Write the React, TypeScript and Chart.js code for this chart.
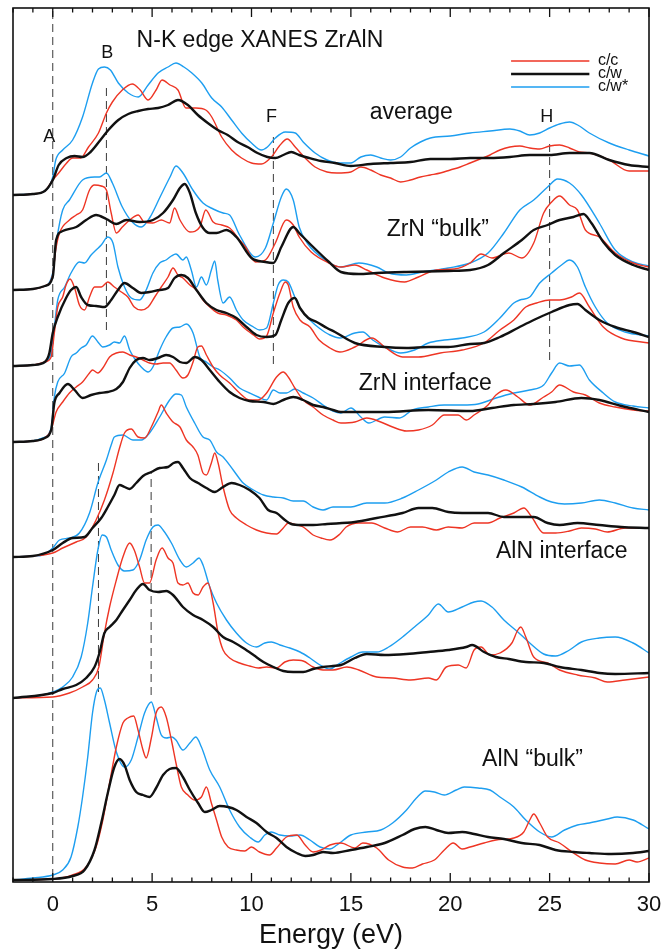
import { useEffect, useRef } from "react";
import { Chart, registerables } from "chart.js";

Chart.register(...registerables);

type Pt = [number, number];

const FONT = '"Liberation Sans", Arial, Helvetica, sans-serif';

// axis ranges
const ENERGY_MIN = -2;
const ENERGY_MAX = 30;
const INTENSITY_MAX = 8.74;
const energyTicks = [0, 5, 10, 15, 20, 25, 30];

// vertical stacking offsets of each set of spectra (arb. units)
const OFFSET_AVERAGE = 6.86;
const OFFSET_ZRN_BULK = 5.92;
const OFFSET_ZRN_MID = 5.16;
const OFFSET_ZRN_INTERFACE = 4.4;
const OFFSET_ALN_INTERFACE = 3.25;
const OFFSET_ALN_MID = 1.83;
const OFFSET_ALN_BULK = 0.02;

// ---- average ----
const averageCC: Pt[] = [[-2,0.01],[-1,0.02],[-0.4,0.05],[0,0.16],[0.3,0.23],[0.7,0.33],[1.0,0.38],[1.4,0.38],[1.8,0.49],[2.3,0.63],[2.7,0.83],[3.0,0.94],[3.5,1.06],[4.0,1.12],[4.4,1.06],[4.8,0.96],[5.2,1.06],[5.5,1.16],[5.9,1.11],[6.3,1.06],[6.7,0.88],[7.2,0.88],[7.7,0.86],[8.0,0.79],[8.5,0.59],[9.0,0.46],[9.5,0.38],[10.0,0.33],[10.5,0.32],[11.0,0.39],[11.4,0.50],[11.8,0.57],[12.2,0.49],[12.7,0.38],[13.2,0.29],[13.8,0.24],[14.3,0.23],[15,0.24],[15.5,0.29],[16,0.26],[16.5,0.21],[17,0.18],[17.5,0.14],[18,0.16],[18.5,0.19],[19,0.21],[19.5,0.23],[20,0.26],[20.5,0.29],[21,0.33],[21.5,0.37],[22,0.41],[22.5,0.46],[23,0.49],[23.5,0.50],[24,0.48],[24.5,0.47],[25,0.50],[25.5,0.51],[26,0.48],[26.5,0.44],[27,0.43],[28,0.36],[29,0.25],[30,0.25]];
const averageCW: Pt[] = [[-2,0.01],[-1,0.02],[-0.4,0.05],[0,0.16],[0.3,0.31],[0.7,0.38],[1.1,0.40],[1.5,0.39],[1.9,0.44],[2.4,0.56],[2.8,0.66],[3.3,0.76],[3.8,0.82],[4.3,0.85],[4.8,0.87],[5.3,0.88],[5.8,0.91],[6.3,0.96],[6.8,0.91],[7.3,0.81],[7.8,0.73],[8.3,0.66],[8.8,0.61],[9.3,0.54],[9.8,0.49],[10.3,0.43],[10.8,0.39],[11.2,0.38],[11.6,0.41],[12.0,0.44],[12.4,0.41],[12.9,0.38],[13.5,0.35],[14.2,0.33],[15,0.30],[16,0.32],[17,0.33],[18,0.34],[19,0.37],[20,0.37],[21,0.38],[22,0.38],[23,0.39],[24,0.41],[25,0.41],[26,0.43],[27,0.43],[28,0.36],[29,0.31],[30,0.29]];
const averageCWs: Pt[] = [[-2,0.01],[-1,0.02],[-0.5,0.04],[0,0.19],[0.15,0.36],[0.5,0.46],[1.0,0.56],[1.5,0.79],[2.0,1.13],[2.3,1.27],[2.6,1.29],[2.9,1.26],[3.3,1.13],[3.8,1.03],[4.3,0.99],[4.8,1.11],[5.3,1.23],[5.8,1.29],[6.2,1.33],[6.6,1.29],[7.0,1.23],[7.5,1.13],[8.0,0.98],[8.5,0.89],[9.0,0.76],[9.5,0.63],[10.0,0.53],[10.5,0.46],[10.8,0.49],[11.2,0.58],[11.7,0.64],[12.2,0.63],[12.6,0.54],[13.2,0.43],[13.8,0.36],[14.4,0.33],[15,0.33],[15.5,0.39],[16,0.41],[16.5,0.38],[17,0.36],[17.5,0.39],[18,0.48],[18.5,0.54],[19,0.58],[20,0.60],[21,0.63],[22,0.65],[23,0.67],[23.5,0.65],[24,0.61],[24.5,0.63],[25,0.68],[25.5,0.72],[26,0.74],[26.5,0.70],[27,0.63],[28,0.53],[29,0.46],[30,0.40]];

// ---- ZrN "bulk" ----
const zrnBulkCC: Pt[] = [[-2,0],[-1,0.01],[-0.4,0.04],[0,0.15],[0.15,0.40],[0.34,0.57],[0.84,0.70],[1.18,0.75],[1.5,0.80],[1.85,1.00],[2.1,1.05],[2.44,1.04],[2.7,1.00],[2.94,0.77],[3.2,0.57],[3.5,0.63],[3.87,0.70],[4.3,0.75],[4.6,0.68],[5.04,0.67],[5.46,0.70],[5.88,0.67],[6.13,0.82],[6.4,0.70],[6.9,0.58],[7.4,0.63],[7.7,0.80],[8.07,0.68],[8.5,0.65],[8.9,0.62],[9.4,0.50],[9.7,0.43],[10.2,0.28],[10.7,0.30],[11.2,0.47],[11.75,0.70],[12.1,0.65],[12.4,0.53],[13.0,0.38],[13.9,0.27],[14.5,0.23],[15.2,0.25],[15.8,0.20],[16.7,0.12],[17.7,0.08],[18.4,0.13],[19.3,0.20],[20.2,0.21],[21.0,0.27],[21.55,0.36],[22.1,0.32],[22.95,0.37],[23.6,0.32],[24.2,0.47],[24.7,0.77],[25.1,0.88],[25.5,0.94],[26.0,0.85],[26.4,0.80],[26.8,0.60],[27.5,0.53],[28.3,0.37],[29.2,0.27],[30,0.23]];
const zrnBulkCW: Pt[] = [[-2,0],[-1,0.01],[-0.4,0.04],[0,0.13],[0.17,0.50],[0.5,0.59],[1.18,0.63],[1.68,0.70],[2.18,0.75],[2.7,0.71],[3.2,0.66],[3.7,0.70],[4.37,0.68],[5.04,0.70],[5.55,0.77],[6.05,0.90],[6.4,1.02],[6.64,1.06],[6.9,0.97],[7.2,0.77],[7.56,0.62],[7.9,0.57],[8.24,0.57],[8.74,0.60],[9.24,0.53],[10.0,0.32],[10.7,0.28],[11.1,0.27],[11.5,0.43],[12.1,0.63],[12.4,0.57],[13.0,0.45],[13.9,0.28],[14.5,0.18],[15.4,0.16],[16.3,0.17],[17.8,0.18],[19.9,0.19],[21.0,0.20],[21.9,0.25],[22.7,0.37],[23.6,0.50],[24.2,0.60],[24.9,0.65],[25.5,0.70],[26.2,0.73],[26.7,0.76],[27.1,0.67],[27.7,0.48],[28.3,0.35],[29.2,0.25],[30,0.20]];
const zrnBulkCWs: Pt[] = [[-2,0],[-1,0.01],[-0.5,0.03],[0,0.17],[0.2,0.50],[0.5,0.80],[0.84,0.90],[1.5,1.10],[2.1,1.13],[2.35,1.13],[2.7,1.17],[3.0,1.07],[3.5,0.83],[4.0,0.68],[4.45,0.63],[4.9,0.73],[5.4,0.93],[5.9,1.13],[6.2,1.24],[6.55,1.17],[7.05,1.00],[7.56,0.87],[8.07,0.81],[8.57,0.77],[8.9,0.75],[9.4,0.55],[10.2,0.33],[10.7,0.42],[11.1,0.67],[11.5,0.93],[11.75,1.01],[12.1,0.90],[12.4,0.63],[12.8,0.47],[13.7,0.30],[14.5,0.23],[15.4,0.27],[16.3,0.23],[16.9,0.17],[17.8,0.15],[18.6,0.18],[19.9,0.22],[21.0,0.27],[21.9,0.37],[22.7,0.57],[23.5,0.80],[24.2,0.90],[24.9,1.03],[25.4,1.11],[26.0,1.07],[26.6,0.95],[27.5,0.67],[28.3,0.40],[29.2,0.28],[30,0.24]];

// ---- ZrN (intermediate layer) ----
const zrnMidCC: Pt[] = [[-2,0],[-1,0.01],[-0.4,0.04],[-0.08,0.09],[0.08,0.33],[0.25,0.59],[0.5,0.69],[0.67,0.81],[0.87,0.87],[1.1,0.78],[1.34,0.61],[1.6,0.56],[1.85,0.69],[2.1,0.79],[2.44,0.79],[2.77,0.84],[3.1,0.79],[3.45,0.74],[3.78,0.69],[4.1,0.59],[4.45,0.56],[4.8,0.59],[5.13,0.69],[5.46,0.79],[5.8,0.89],[6.05,0.98],[6.3,0.91],[6.55,0.88],[6.9,0.81],[7.23,0.76],[7.56,0.66],[7.9,0.59],[8.3,0.53],[8.74,0.51],[9.24,0.46],[9.58,0.39],[10.1,0.31],[10.4,0.27],[10.76,0.30],[11.1,0.53],[11.43,0.73],[11.7,0.84],[11.85,0.81],[12.1,0.59],[12.44,0.46],[12.94,0.39],[13.4,0.26],[13.95,0.18],[14.45,0.14],[15.2,0.19],[16.05,0.28],[16.7,0.19],[17.6,0.09],[18.4,0.09],[19.5,0.13],[20.6,0.16],[21.7,0.23],[22.5,0.36],[23.2,0.46],[23.8,0.59],[24.35,0.63],[25.0,0.66],[25.5,0.66],[26.1,0.69],[26.5,0.73],[27.0,0.59],[27.7,0.39],[28.6,0.28],[30,0.23]];
const zrnMidCW: Pt[] = [[-2,0],[-1,0.01],[-0.4,0.04],[-0.17,0.13],[0,0.33],[0.25,0.49],[0.67,0.68],[0.92,0.76],[1.18,0.79],[1.43,0.69],[1.76,0.61],[2.18,0.60],[2.6,0.59],[2.94,0.66],[3.28,0.76],[3.61,0.83],[4.03,0.78],[4.45,0.73],[4.87,0.74],[5.38,0.76],[5.8,0.78],[6.13,0.88],[6.47,0.91],[6.8,0.88],[7.23,0.76],[7.73,0.63],[8.24,0.56],[8.74,0.53],[9.24,0.48],[9.75,0.39],[10.25,0.31],[10.76,0.29],[11.2,0.31],[11.5,0.46],[11.85,0.63],[12.18,0.68],[12.44,0.58],[12.86,0.48],[13.28,0.44],[13.8,0.38],[14.2,0.34],[15.2,0.23],[16.7,0.19],[17.8,0.18],[18.9,0.19],[19.9,0.19],[21.0,0.22],[21.7,0.23],[22.5,0.29],[23.4,0.38],[24.2,0.46],[25.1,0.54],[26.0,0.61],[26.4,0.62],[26.8,0.56],[27.5,0.46],[28.3,0.39],[29.2,0.34],[30,0.29]];
const zrnMidCWs: Pt[] = [[-2,0],[-1,0.01],[-0.5,0.03],[-0.08,0.13],[0.08,0.39],[0.25,0.66],[0.6,0.79],[0.92,0.93],[1.34,1.04],[1.6,1.03],[1.93,1.11],[2.18,1.16],[2.44,1.21],[2.77,1.29],[3.03,1.23],[3.28,0.99],[3.61,0.79],[3.95,0.68],[4.37,0.66],[4.7,0.76],[5.04,0.93],[5.38,1.03],[5.7,1.06],[5.97,1.10],[6.2,1.12],[6.55,1.06],[6.72,1.09],[6.97,0.96],[7.23,0.79],[7.48,0.89],[7.73,0.81],[7.98,0.96],[8.15,1.05],[8.3,0.86],[8.57,0.63],[8.9,0.69],[9.24,0.56],[9.58,0.46],[10.1,0.39],[10.4,0.36],[10.76,0.38],[11.1,0.63],[11.34,0.81],[11.6,0.86],[11.85,0.84],[12.18,0.69],[12.5,0.56],[12.94,0.46],[13.4,0.38],[13.95,0.31],[14.45,0.28],[15.2,0.33],[15.6,0.34],[16.1,0.26],[16.7,0.19],[17.5,0.13],[18.2,0.16],[18.9,0.23],[19.7,0.26],[20.6,0.28],[21.7,0.34],[22.5,0.48],[23.2,0.63],[23.5,0.66],[24.0,0.69],[24.5,0.83],[25.1,0.93],[25.6,1.01],[26.0,1.06],[26.4,0.99],[26.8,0.79],[27.3,0.59],[27.9,0.43],[28.8,0.34],[30,0.30]];

// ---- ZrN interface ----
const zrnInterfaceCC: Pt[] = [[-2,0],[-1,0.01],[-0.4,0.04],[-0.08,0.12],[0.17,0.30],[0.5,0.40],[0.84,0.49],[1.18,0.55],[1.5,0.60],[1.85,0.69],[2.0,0.72],[2.27,0.69],[2.52,0.74],[2.86,0.85],[3.2,0.89],[3.53,0.90],[3.87,0.87],[4.2,0.85],[4.54,0.82],[4.87,0.79],[5.2,0.78],[5.55,0.79],[5.88,0.79],[6.2,0.72],[6.55,0.64],[6.8,0.67],[7.06,0.80],[7.3,0.95],[7.48,0.96],[7.73,0.87],[8.07,0.75],[8.4,0.67],[8.9,0.59],[9.4,0.49],[9.9,0.42],[10.34,0.42],[10.76,0.49],[11.26,0.65],[11.6,0.70],[11.85,0.65],[12.18,0.54],[12.6,0.42],[13.1,0.35],[13.6,0.27],[14.1,0.22],[14.5,0.19],[15.2,0.20],[15.8,0.24],[16.5,0.20],[17.1,0.15],[17.8,0.11],[18.4,0.12],[19.1,0.17],[19.7,0.27],[20.4,0.27],[20.8,0.22],[21.2,0.27],[21.9,0.37],[22.3,0.47],[22.8,0.52],[23.4,0.45],[24.0,0.37],[24.7,0.45],[25.1,0.50],[25.5,0.57],[26.2,0.50],[26.8,0.47],[27.5,0.39],[28.3,0.35],[29.2,0.32],[30,0.31]];
const zrnInterfaceCW: Pt[] = [[-2,0],[-1,0.01],[-0.4,0.04],[-0.08,0.12],[0.08,0.39],[0.34,0.49],[0.76,0.58],[1.1,0.52],[1.5,0.44],[1.93,0.47],[2.35,0.49],[2.77,0.50],[3.2,0.53],[3.53,0.60],[3.87,0.74],[4.2,0.82],[4.54,0.84],[4.87,0.82],[5.3,0.84],[5.7,0.87],[6.05,0.85],[6.4,0.80],[6.72,0.79],[7.15,0.85],[7.48,0.82],[7.9,0.72],[8.4,0.60],[8.9,0.50],[9.4,0.44],[9.9,0.41],[10.6,0.40],[11.1,0.38],[11.6,0.42],[12.1,0.45],[12.6,0.42],[13.1,0.37],[13.6,0.35],[14.1,0.32],[14.5,0.30],[16.7,0.30],[18.9,0.32],[21.0,0.31],[22.1,0.34],[23.2,0.37],[24.2,0.38],[25.3,0.40],[26.6,0.44],[27.5,0.42],[28.6,0.36],[30,0.30]];
const zrnInterfaceCWs: Pt[] = [[-2,0],[-1,0.01],[-0.5,0.04],[-0.08,0.14],[0.08,0.45],[0.25,0.60],[0.6,0.69],[0.92,0.85],[1.18,0.89],[1.43,0.94],[1.68,0.97],[2.0,1.06],[2.27,1.00],[2.52,0.95],[2.86,0.97],[3.1,1.00],[3.36,0.99],[3.61,1.06],[3.87,0.92],[4.1,0.84],[4.45,0.75],[4.8,0.70],[5.04,0.75],[5.38,0.92],[5.7,1.05],[6.05,1.14],[6.4,1.15],[6.72,1.18],[7.06,1.09],[7.4,0.85],[7.73,0.80],[8.07,0.75],[8.4,0.72],[8.9,0.64],[9.4,0.54],[9.9,0.49],[10.34,0.45],[10.76,0.42],[11.1,0.52],[11.43,0.49],[11.76,0.49],[12.18,0.53],[12.6,0.49],[13.1,0.44],[13.6,0.37],[14.1,0.31],[14.5,0.29],[15.0,0.34],[15.5,0.25],[15.9,0.19],[16.7,0.25],[17.45,0.24],[18.1,0.32],[18.9,0.35],[19.7,0.37],[20.6,0.37],[21.4,0.38],[22.3,0.44],[23.2,0.49],[24.0,0.52],[24.7,0.57],[25.1,0.69],[25.5,0.79],[26.0,0.76],[26.5,0.77],[27.0,0.62],[27.7,0.49],[28.3,0.40],[29.2,0.36],[30,0.34]];

// ---- AlN interface ----
const alnInterfaceCC: Pt[] = [[-2,0],[-1,0.01],[0,0.04],[0.5,0.09],[1.18,0.15],[1.68,0.20],[2.18,0.37],[2.6,0.57],[3.03,0.84],[3.36,1.09],[3.61,1.24],[3.95,1.28],[4.29,1.20],[4.62,1.19],[4.96,1.30],[5.3,1.45],[5.46,1.52],[5.71,1.44],[6.05,1.35],[6.4,1.30],[6.72,1.17],[7.06,1.10],[7.3,1.02],[7.56,0.84],[7.73,0.82],[7.98,0.94],[8.15,1.04],[8.32,0.94],[8.57,0.70],[8.9,0.47],[9.24,0.39],[9.75,0.32],[10.25,0.27],[10.76,0.24],[11.26,0.23],[11.6,0.29],[11.85,0.34],[12.27,0.32],[12.6,0.30],[13.1,0.22],[13.5,0.19],[13.95,0.17],[14.45,0.23],[14.76,0.30],[15.4,0.34],[16.05,0.34],[16.7,0.29],[17.35,0.25],[18.0,0.30],[18.6,0.30],[19.3,0.27],[19.9,0.30],[20.6,0.29],[21.2,0.34],[21.9,0.34],[22.5,0.39],[23.2,0.44],[23.7,0.49],[24.1,0.40],[24.7,0.24],[25.3,0.24],[26.0,0.26],[26.6,0.29],[27.3,0.28],[27.9,0.25],[28.8,0.29],[30,0.29]];
const alnInterfaceCW: Pt[] = [[-2,0],[-1,0.01],[0,0.07],[0.5,0.14],[1.0,0.19],[1.6,0.20],[2.0,0.29],[2.44,0.39],[2.77,0.50],[3.1,0.62],[3.36,0.72],[3.61,0.70],[3.87,0.68],[4.2,0.74],[4.54,0.81],[4.96,0.85],[5.38,0.89],[5.8,0.90],[6.08,0.94],[6.3,0.95],[6.55,0.89],[6.9,0.79],[7.31,0.74],[7.73,0.69],[8.15,0.65],[8.57,0.70],[9.0,0.74],[9.4,0.72],[9.9,0.67],[10.4,0.59],[10.84,0.47],[11.26,0.44],[11.68,0.37],[12.0,0.33],[12.5,0.32],[13.1,0.32],[13.8,0.33],[15.2,0.35],[16.3,0.39],[17.6,0.44],[18.4,0.49],[19.1,0.49],[19.9,0.45],[20.6,0.44],[21.2,0.44],[21.9,0.44],[22.7,0.40],[23.6,0.40],[24.2,0.40],[24.9,0.34],[25.5,0.32],[26.4,0.34],[27.5,0.32],[28.6,0.30],[30,0.29]];
const alnInterfaceCWs: Pt[] = [[-2,0],[-1,0.01],[-0.5,0.02],[0,0.09],[0.34,0.17],[0.84,0.19],[1.34,0.24],[1.85,0.44],[2.27,0.74],[2.7,0.97],[2.94,1.12],[3.1,1.20],[3.53,1.22],[4.03,1.17],[4.45,1.17],[4.87,1.24],[5.38,1.40],[5.88,1.57],[6.2,1.63],[6.47,1.62],[6.72,1.50],[7.14,1.34],[7.56,1.20],[7.9,1.17],[8.24,1.05],[8.57,1.00],[9.08,0.87],[9.58,0.74],[10.1,0.67],[10.6,0.62],[11.1,0.60],[11.6,0.59],[12.1,0.56],[12.6,0.56],[13.1,0.50],[13.6,0.47],[14.1,0.50],[15.0,0.50],[15.8,0.54],[16.7,0.54],[17.6,0.59],[18.4,0.67],[19.3,0.77],[19.9,0.85],[20.6,0.90],[21.2,0.85],[21.9,0.82],[22.7,0.77],[23.6,0.70],[24.5,0.60],[25.1,0.55],[25.75,0.53],[26.6,0.54],[27.5,0.57],[28.3,0.54],[29.2,0.49],[30,0.47]];

// ---- AlN (intermediate layer) ----
const alnMidCC: Pt[] = [[-2,0.01],[0,0.02],[0.84,0.06],[1.5,0.12],[2.0,0.19],[2.32,0.32],[2.6,0.66],[2.86,0.92],[3.2,1.19],[3.53,1.42],[3.87,1.56],[4.1,1.49],[4.37,1.32],[4.62,1.16],[4.87,1.16],[5.2,1.39],[5.5,1.51],[5.8,1.41],[6.05,1.36],[6.3,1.16],[6.55,1.14],[6.8,1.16],[7.06,1.06],[7.31,1.04],[7.56,1.12],[7.81,1.16],[8.07,0.96],[8.32,0.66],[8.57,0.49],[8.9,0.41],[9.4,0.36],[9.9,0.33],[10.34,0.31],[10.76,0.32],[11.26,0.31],[11.68,0.37],[12.1,0.39],[12.6,0.38],[13.1,0.32],[13.6,0.29],[14.1,0.29],[14.8,0.32],[15.4,0.29],[16.3,0.22],[17.1,0.21],[18.0,0.19],[18.9,0.21],[19.3,0.19],[19.8,0.32],[20.4,0.34],[20.8,0.31],[21.2,0.49],[21.55,0.52],[22.0,0.44],[22.5,0.46],[23.1,0.56],[23.4,0.69],[23.55,0.72],[23.8,0.62],[24.2,0.42],[24.9,0.36],[25.5,0.29],[26.4,0.24],[27.3,0.21],[27.9,0.17],[28.8,0.19],[30,0.22]];
const alnMidCW: Pt[] = [[-2,0.01],[0,0.06],[0.5,0.10],[1.18,0.14],[1.68,0.21],[2.1,0.32],[2.35,0.46],[2.6,0.66],[2.86,0.72],[3.2,0.79],[3.53,0.89],[3.87,0.99],[4.2,1.09],[4.54,1.15],[4.87,1.09],[5.3,1.07],[5.71,1.08],[6.05,1.04],[6.55,0.92],[7.06,0.84],[7.56,0.79],[8.07,0.72],[8.57,0.62],[9.08,0.57],[9.58,0.51],[10.1,0.44],[10.6,0.37],[11.1,0.32],[11.6,0.28],[12.1,0.27],[12.6,0.27],[13.1,0.30],[13.6,0.32],[14.1,0.33],[14.5,0.34],[15.2,0.41],[15.8,0.45],[16.7,0.44],[17.8,0.45],[18.9,0.47],[19.9,0.49],[20.8,0.52],[21.1,0.54],[21.7,0.47],[22.3,0.42],[22.95,0.40],[23.8,0.37],[24.7,0.36],[25.5,0.32],[26.6,0.29],[27.5,0.26],[28.3,0.25],[30,0.26]];
const alnMidCWs: Pt[] = [[-2,0.01],[-0.5,0.04],[0,0.07],[0.5,0.12],[1.0,0.22],[1.43,0.42],[1.76,0.76],[2.0,1.12],[2.27,1.49],[2.49,1.64],[2.7,1.62],[2.94,1.49],[3.28,1.34],[3.61,1.28],[4.03,1.29],[4.37,1.39],[4.7,1.59],[5.04,1.72],[5.3,1.74],[5.55,1.69],[5.97,1.56],[6.4,1.39],[6.72,1.32],[7.06,1.36],[7.36,1.41],[7.56,1.34],[7.9,1.12],[8.24,0.96],[8.74,0.79],[9.24,0.66],[9.75,0.56],[10.25,0.52],[10.67,0.56],[11.0,0.57],[11.43,0.54],[11.93,0.51],[12.44,0.47],[12.94,0.41],[13.45,0.34],[13.95,0.30],[14.3,0.34],[15.0,0.42],[15.6,0.47],[16.3,0.47],[16.9,0.52],[17.6,0.62],[18.2,0.72],[18.9,0.84],[19.4,0.95],[19.9,0.87],[20.6,0.92],[21.2,0.97],[21.55,0.98],[22.1,0.92],[22.7,0.79],[23.4,0.67],[24.0,0.56],[24.7,0.45],[25.3,0.43],[26.0,0.49],[26.6,0.57],[27.5,0.61],[28.3,0.62],[29.2,0.56],[30,0.46]];

// ---- AlN "bulk" ----
const alnBulkCC: Pt[] = [[-2,0],[0,0.01],[1.0,0.05],[1.68,0.13],[2.18,0.33],[2.52,0.60],[2.86,0.97],[3.2,1.33],[3.53,1.57],[3.78,1.62],[4.07,1.64],[4.29,1.50],[4.54,1.30],[4.7,1.22],[4.96,1.42],[5.2,1.67],[5.46,1.73],[5.71,1.63],[5.97,1.40],[6.2,1.17],[6.47,0.93],[6.8,0.85],[7.14,0.80],[7.48,0.83],[7.73,0.93],[7.98,0.77],[8.24,0.60],[8.5,0.43],[8.82,0.33],[9.24,0.30],[9.66,0.29],[10.0,0.33],[10.4,0.28],[10.9,0.25],[11.26,0.32],[11.76,0.43],[12.27,0.45],[12.7,0.35],[13.1,0.28],[13.5,0.30],[13.95,0.35],[14.5,0.37],[15.2,0.32],[15.6,0.37],[16.3,0.32],[16.9,0.20],[17.6,0.13],[18.1,0.12],[18.6,0.16],[19.2,0.20],[19.7,0.30],[20.15,0.37],[20.6,0.31],[21.0,0.33],[21.7,0.37],[22.3,0.40],[23.2,0.42],[23.7,0.48],[24.0,0.60],[24.2,0.66],[24.5,0.57],[24.9,0.43],[25.5,0.37],[26.2,0.27],[26.8,0.20],[27.5,0.17],[28.3,0.16],[29.0,0.20],[29.4,0.18],[30,0.22]];
const alnBulkCW: Pt[] = [[-2,0],[0,0.01],[1.0,0.04],[1.6,0.10],[2.1,0.30],[2.44,0.57],[2.77,0.87],[3.1,1.13],[3.36,1.21],[3.61,1.15],[3.87,1.00],[4.2,0.88],[4.54,0.85],[4.87,0.83],[5.2,0.92],[5.55,1.05],[5.88,1.11],[6.2,1.12],[6.55,1.03],[6.9,0.90],[7.31,0.77],[7.65,0.68],[7.98,0.70],[8.4,0.74],[8.82,0.73],[9.24,0.70],[9.75,0.63],[10.25,0.57],[10.76,0.48],[11.26,0.42],[11.76,0.33],[12.27,0.27],[12.7,0.24],[13.1,0.25],[13.6,0.28],[14.1,0.27],[15.0,0.30],[15.8,0.33],[16.7,0.37],[17.6,0.45],[18.2,0.51],[18.75,0.53],[19.3,0.50],[19.9,0.47],[20.6,0.48],[21.2,0.46],[21.9,0.43],[22.7,0.41],[23.6,0.37],[24.5,0.35],[25.3,0.30],[26.2,0.28],[27.0,0.27],[28.1,0.26],[29.2,0.27],[30,0.29]];
const alnBulkCWs: Pt[] = [[-2,0],[-1,0.02],[0,0.05],[0.5,0.10],[0.92,0.23],[1.26,0.53],[1.5,0.83],[1.76,1.23],[2.0,1.67],[2.2,1.88],[2.39,1.92],[2.6,1.80],[2.86,1.57],[3.2,1.28],[3.61,1.13],[3.95,1.20],[4.29,1.43],[4.62,1.67],[4.96,1.78],[5.2,1.63],[5.46,1.45],[5.71,1.42],[6.0,1.43],[6.2,1.40],[6.55,1.30],[6.9,1.37],[7.2,1.43],[7.48,1.33],[7.9,1.10],[8.4,0.93],[8.9,0.70],[9.4,0.53],[9.9,0.43],[10.34,0.38],[10.67,0.45],[11.0,0.48],[11.43,0.45],[11.93,0.44],[12.44,0.45],[12.94,0.40],[13.45,0.33],[13.95,0.31],[14.3,0.35],[15.0,0.45],[15.8,0.48],[16.5,0.50],[17.1,0.57],[17.8,0.70],[18.3,0.82],[18.75,0.89],[19.2,0.88],[19.7,0.85],[20.3,0.90],[20.7,0.93],[21.4,0.92],[22.0,0.90],[22.5,0.83],[23.2,0.73],[23.8,0.60],[24.5,0.48],[25.1,0.43],[25.75,0.50],[26.4,0.55],[27.0,0.57],[27.9,0.61],[28.4,0.63],[29.2,0.60],[30,0.51]];

// feature markers: [energy, lower intensity, upper intensity]
const featureMarkers: [number, number, number][] = [
  [0, 0.05, INTENSITY_MAX],
  [2.7, 5.52, 7.99],
  [11.1, 5.18, 7.45],
  [25.0, 5.22, 7.42],
  [2.3, 1.9, 4.24],
  [4.95, 1.87, 4.09],
];

const seriesLabels = ["c/c", "c/w", "c/w*"];
const seriesColors = ["#ee3524", "#111111", "#1d9ef0"];
const seriesWidths = [1.4, 2.4, 1.4];

const spectrumSets: { offset: number; series: Pt[][] }[] = [
  { offset: OFFSET_AVERAGE, series: [averageCC, averageCW, averageCWs] },
  { offset: OFFSET_ZRN_BULK, series: [zrnBulkCC, zrnBulkCW, zrnBulkCWs] },
  { offset: OFFSET_ZRN_MID, series: [zrnMidCC, zrnMidCW, zrnMidCWs] },
  { offset: OFFSET_ZRN_INTERFACE, series: [zrnInterfaceCC, zrnInterfaceCW, zrnInterfaceCWs] },
  { offset: OFFSET_ALN_INTERFACE, series: [alnInterfaceCC, alnInterfaceCW, alnInterfaceCWs] },
  { offset: OFFSET_ALN_MID, series: [alnMidCC, alnMidCW, alnMidCWs] },
  { offset: OFFSET_ALN_BULK, series: [alnBulkCC, alnBulkCW, alnBulkCWs] },
];

// text annotations placed in data coordinates (energy, intensity)
type Note = { text: string; e: number; v: number; size: number; align: CanvasTextAlign };
const notes: Note[] = [
  { text: "N-K edge XANES ZrAlN", e: 4.22, v: 8.41, size: 23, align: "left" },
  { text: "A", e: -0.17, v: 7.45, size: 18, align: "center" },
  { text: "B", e: 2.74, v: 8.29, size: 18, align: "center" },
  { text: "F", e: 11.0, v: 7.65, size: 18, align: "center" },
  { text: "H", e: 24.85, v: 7.65, size: 18, align: "center" },
  { text: "average", e: 15.95, v: 7.69, size: 23, align: "left" },
  { text: "ZrN \u201Cbulk\u201D", e: 16.8, v: 6.52, size: 23, align: "left" },
  { text: "ZrN interface", e: 15.4, v: 4.98, size: 23, align: "left" },
  { text: "AlN interface", e: 22.3, v: 3.3, size: 23, align: "left" },
  { text: "AlN \u201Cbulk\u201D", e: 21.6, v: 1.22, size: 23, align: "left" },
];

// legend rows: intensity level of each row, line start/end energy, text energy
const legendRows = [8.21, 8.08, 7.95];
const legendLineFrom = 23.06;
const legendLineTo = 27.0;
const legendTextAt = 27.43;

function buildDatasets() {
  const sets: any[] = [];
  spectrumSets.forEach((group) => {
    group.series.forEach((pts, i) => {
      sets.push({
        label: seriesLabels[i],
        data: pts.map(([e, v]) => ({ x: e, y: v + group.offset })),
        borderColor: seriesColors[i],
        borderWidth: seriesWidths[i],
        pointRadius: 0,
        fill: false,
        cubicInterpolationMode: "monotone",
        order: i === 1 ? 0 : 1,
      });
    });
  });
  featureMarkers.forEach(([e, lo, hi]) => {
    sets.push({
      label: "marker",
      data: [
        { x: e, y: lo },
        { x: e, y: hi },
      ],
      borderColor: "#3a3a3a",
      borderWidth: 1,
      borderDash: [8, 5],
      pointRadius: 0,
      fill: false,
      tension: 0,
      order: 2,
    });
  });
  return sets;
}

const framePlugin = {
  id: "frameNotesLegend",
  afterDatasetsDraw(chart: any) {
    const { ctx, chartArea, scales } = chart;
    const { left, right, top, bottom } = chartArea;
    const x = scales.x;
    const y = scales.y;
    ctx.save();
    // plot frame
    ctx.strokeStyle = "#111";
    ctx.lineWidth = 1.6;
    ctx.strokeRect(left, top, right - left, bottom - top);
    // inward ticks on bottom and top edges
    ctx.lineWidth = 1.3;
    for (let e = ENERGY_MIN; e <= ENERGY_MAX; e += 1) {
      const px = x.getPixelForValue(e);
      const len = e % 5 === 0 ? 9 : 4.5;
      ctx.beginPath();
      ctx.moveTo(px, bottom);
      ctx.lineTo(px, bottom - len);
      ctx.moveTo(px, top);
      ctx.lineTo(px, top + len);
      ctx.stroke();
    }
    // annotations
    ctx.fillStyle = "#111";
    ctx.textBaseline = "middle";
    notes.forEach((n) => {
      ctx.font = `${n.size}px ${FONT}`;
      ctx.textAlign = n.align;
      ctx.fillText(n.text, x.getPixelForValue(n.e), y.getPixelForValue(n.v));
    });
    // legend
    ctx.textAlign = "left";
    ctx.font = `16px ${FONT}`;
    legendRows.forEach((v, i) => {
      const py = y.getPixelForValue(v);
      ctx.strokeStyle = seriesColors[i];
      ctx.lineWidth = seriesWidths[i];
      ctx.beginPath();
      ctx.moveTo(x.getPixelForValue(legendLineFrom), py);
      ctx.lineTo(x.getPixelForValue(legendLineTo), py);
      ctx.stroke();
      ctx.fillStyle = "#111";
      ctx.fillText(seriesLabels[i], x.getPixelForValue(legendTextAt), py);
    });
    ctx.restore();
  },
};

export default function App() {
  const canvasRef = useRef<HTMLCanvasElement>(null);

  useEffect(() => {
    if (!canvasRef.current) return;
    const chart = new Chart(canvasRef.current, {
      type: "line",
      data: { datasets: buildDatasets() },
      options: {
        animation: false,
        responsive: true,
        maintainAspectRatio: false,
        devicePixelRatio: 1,
        layout: { padding: { left: 13, right: 23, top: 8, bottom: 0 } },
        plugins: {
          legend: { display: false },
          tooltip: { enabled: false },
        },
        scales: {
          x: {
            type: "linear",
            position: "bottom",
            min: ENERGY_MIN,
            max: ENERGY_MAX,
            afterBuildTicks: (axis: any) => {
              axis.ticks = energyTicks.map((value) => ({ value }));
            },
            afterFit: (axis: any) => {
              axis.height = 67;
            },
            grid: { display: false, drawTicks: false },
            border: { display: false },
            ticks: {
              autoSkip: false,
              maxRotation: 0,
              padding: 10,
              color: "#111",
              font: { family: FONT, size: 22 },
              callback: (v: any) => String(v),
            },
            title: {
              display: true,
              text: "Energy (eV)",
              color: "#111",
              font: { family: FONT, size: 27, lineHeight: 1 },
              padding: { top: 0, bottom: 0 },
            },
          },
          y: {
            type: "linear",
            display: false,
            min: 0,
            max: INTENSITY_MAX,
          },
        },
      },
      plugins: [framePlugin],
    });
    return () => chart.destroy();
  }, []);

  return (
    <div style={{ position: "absolute", left: 0, top: 0, width: 672, height: 949, background: "#fff" }}>
      <canvas ref={canvasRef} />
    </div>
  );
}
